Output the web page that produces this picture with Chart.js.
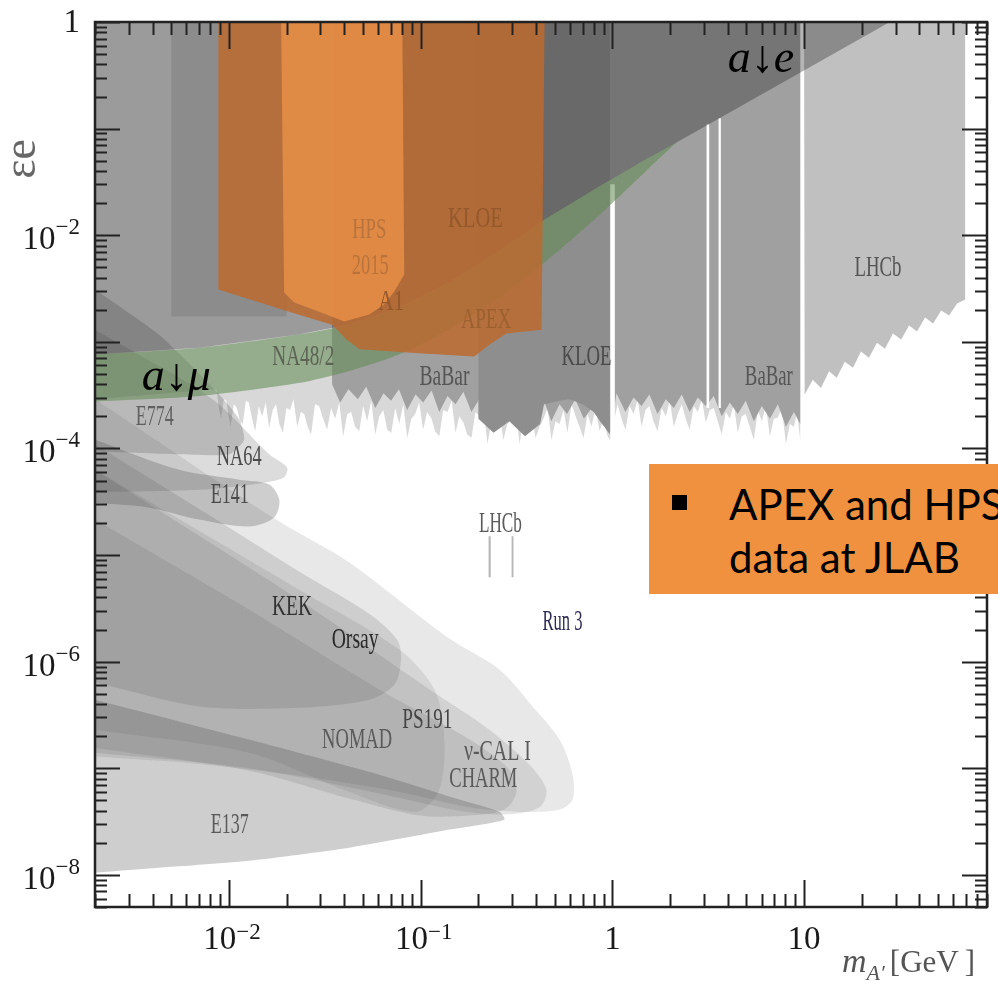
<!DOCTYPE html>
<html>
<head>
<meta charset="utf-8">
<title>Dark photon limits</title>
<script src="https://cdn.jsdelivr.net/npm/chart.js@4.4.1/dist/chart.umd.min.js"></script>
<style>
  html, body { margin: 0; padding: 0; background: #fff; overflow: hidden; }
  #wrap { position: relative; width: 998px; height: 985px; overflow: hidden; }
  #chart { display: block; }
  #note { position: absolute; left: 649px; top: 464px; width: 380px; height: 130px; background: #f0913f;
          font-family: Lato, "Open Sans", sans-serif; font-size: 42px; color: #000; }
  #note .sq { position: absolute; left: 23px; top: 31px; width: 15px; height: 15px; background: #000; }
  #note .ln { position: absolute; left: 80px; line-height: 42px; white-space: nowrap; }
</style>
</head>
<body>
<div id="wrap">
  <canvas id="chart" width="998" height="985"></canvas>
  <div id="note"><span class="sq"></span><span class="ln" style="top:19px">APEX and HPS</span><span class="ln" style="top:72px">data at JLAB</span></div>
</div>
<script>
// axes
const massRange = [0.002, 90];
const epsRange = [5e-9, 1];
const massLabels = [0.01, 0.1, 1, 10];
const epsLabels = [1e-8, 1e-6, 1e-4, 1e-2, 1];
const epsTop = 1;

// light fringe under the collider limits (BaBar / KLOE), jagged lower edge
const fringeMass = [0.002,
  0.0086, 0.00885, 0.0091, 0.0094, 0.0097, 0.00995, 0.0102, 0.0106, 0.011, 0.0114,
  0.0118, 0.01225, 0.0127, 0.0132, 0.0137, 0.0143, 0.0149, 0.01555, 0.0162, 0.0169,
  0.0176, 0.0183, 0.0191, 0.01995, 0.0208, 0.0217, 0.0227, 0.0237, 0.0247, 0.0257,
  0.0268, 0.0281, 0.0295, 0.031, 0.0325, 0.0341, 0.0358, 0.0376, 0.0394, 0.0414,
  0.0434, 0.0455, 0.0478, 0.0501, 0.0526, 0.0552, 0.0579, 0.0608, 0.0638, 0.0669,
  0.0702, 0.0737, 0.0773, 0.0811, 0.0851, 0.0893, 0.0937, 0.0982, 0.103, 0.108,
  0.114, 0.119, 0.125, 0.131, 0.138, 0.145, 0.152, 0.159, 0.167, 0.175,
  0.184, 0.193, 0.202, 0.212, 0.223, 0.234, 0.245, 0.257, 0.270, 0.283,
  0.297, 0.312, 0.328, 0.344, 0.361, 0.379, 0.397, 0.417, 0.437, 0.459,
  0.481, 0.505, 0.530, 0.556, 0.583, 0.612, 0.643, 0.674, 0.707, 0.742,
  0.778, 0.817, 0.857, 0.899, 0.944, 0.972, 1.00, 1.032, 1.065, 1.116,
  1.17, 1.229, 1.29, 1.354, 1.42, 1.488, 1.56, 1.638, 1.72, 1.808,
  1.90, 1.993, 2.09, 2.193, 2.30, 2.412, 2.53, 2.657, 2.79, 2.927,
  3.07, 3.221, 3.38, 3.546, 3.72, 3.905, 4.10, 4.30, 4.51, 4.73,
  4.96, 5.209, 5.47, 5.738, 6.02, 6.318, 6.63, 6.957, 7.30, 7.661,
  8.04, 8.435, 8.85, 9.193, 9.55];
const fringeEps = [2.9e-4,
  3.6e-4, 2.4e-4, 1.9e-4, 2.9e-4, 2.8e-4, 2.0e-4, 1.6e-4, 2.6e-4, 2.4e-4, 1.8e-4,
  1.7e-4, 2.8e-4, 2.7e-4, 1.9e-4, 1.45e-4, 2.5e-4, 2.0e-4, 2.7e-4, 1.55e-4, 2.3e-4,
  2.6e-4, 1.7e-4, 1.4e-4, 2.4e-4, 2.3e-4, 2.9e-4, 1.6e-4, 2.2e-4, 2.1e-4, 1.6e-4,
  1.35e-4, 2.6e-4, 2.5e-4, 1.9e-4, 1.5e-4, 2.4e-4, 1.9e-4, 2.7e-4, 1.3e-4, 2.1e-4,
  2.2e-4, 1.6e-4, 1.45e-4, 2.5e-4, 1.8e-4, 2.8e-4, 1.35e-4, 2.0e-4, 2.3e-4, 1.5e-4,
  1.4e-4, 2.4e-4, 1.7e-4, 2.6e-4, 1.25e-4, 1.9e-4, 2.1e-4, 2.7e-4, 1.5e-4, 2.2e-4,
  1.9e-4, 1.45e-4, 1.3e-4, 2.3e-4, 2.2e-4, 2.8e-4, 1.4e-4, 2.0e-4, 1.75e-4, 1.35e-4,
  1.25e-4, 2.2e-4, 2.0e-4, 2.6e-4, 1.1e-4, 1.8e-4, 1.6e-4, 2.3e-4, 1.2e-4, 1.7e-4,
  1.85e-4, 2.5e-4, 1.1e-4, 1.9e-4, 1.5e-4, 2.2e-4, 1.25e-4, 1.6e-4, 1.9e-4, 2.4e-4,
  1.2e-4, 1.8e-4, 1.7e-4, 2.3e-4, 1.4e-4, 2.6e-4, 2.0e-4, 1.6e-4, 1.25e-4, 2.1e-4,
  1.6e-4, 2.4e-4, 1.45e-4, 1.9e-4, 1.3e-4, 1.2e-4, 1.25e-4, 2.0e-4, 2.6e-4, 1.9e-4,
  1.5e-4, 2.5e-4, 2.1e-4, 2.9e-4, 1.6e-4, 2.3e-4, 2.5e-4, 1.8e-4, 1.45e-4, 2.4e-4,
  2.0e-4, 2.8e-4, 1.6e-4, 2.1e-4, 2.6e-4, 1.9e-4, 1.5e-4, 2.5e-4, 2.2e-4, 2.9e-4,
  1.75e-4, 2.3e-4, 2.4e-4, 1.8e-4, 1.35e-4, 2.2e-4, 1.9e-4, 2.6e-4, 1.4e-4, 2.0e-4,
  2.1e-4, 1.6e-4, 1.2e-4, 2.3e-4, 1.8e-4, 2.5e-4, 1.3e-4, 1.9e-4, 1.95e-4, 2.4e-4,
  1.1e-4, 1.7e-4, 1.6e-4, 2.2e-4, 1.2e-4];

// BaBar body
const babarMass = [0.0345, 0.038, 0.042, 0.047, 0.052, 0.058, 0.064, 0.070, 0.077, 0.085, 0.094, 0.103, 0.114, 0.125, 0.138, 0.152, 0.167, 0.184, 0.202, 0.223, 0.245, 0.27, 0.297, 0.33, 0.36, 0.40, 0.44, 0.48, 0.53, 0.58, 0.64, 0.71, 0.78, 0.86, 0.94, 0.98, 1.05, 1.17, 1.29, 1.42, 1.56, 1.72, 1.9, 2.09, 2.3, 2.53, 2.79, 3.07, 3.38, 3.72, 4.1, 4.51, 4.96, 5.47, 6.02, 6.63, 7.3, 8.04, 8.85, 9.55];
const babarEps = [4.0e-4, 2.7e-4, 3.6e-4, 2.9e-4, 3.8e-4, 2.4e-4, 3.3e-4, 2.8e-4, 3.6e-4, 2.3e-4, 3.2e-4, 2.7e-4, 3.5e-4, 2.2e-4, 3.1e-4, 2.6e-4, 3.4e-4, 2.2e-4, 2.9e-4, 1.8e-4, 2.5e-4, 1.9e-4, 2.7e-4, 1.7e-4, 2.4e-4, 1.9e-4, 2.8e-4, 1.8e-4, 2.6e-4, 2.1e-4, 2.9e-4, 1.9e-4, 2.4e-4, 1.8e-4, 1.5e-4, 1.4e-4, 3.3e-4, 2.2e-4, 3.0e-4, 2.5e-4, 3.2e-4, 2.1e-4, 2.9e-4, 2.4e-4, 3.2e-4, 2.2e-4, 3.0e-4, 2.5e-4, 3.1e-4, 2.0e-4, 2.7e-4, 2.1e-4, 2.8e-4, 1.8e-4, 2.5e-4, 1.9e-4, 2.6e-4, 1.6e-4, 2.2e-4, 1.7e-4];

const kloeMass = [0.2, 0.2, 0.24, 0.29, 0.35, 0.42, 0.44, 0.53, 0.6, 0.7, 0.8, 0.97, 0.97];
const kloeEps = [1, 1.9e-4, 1.4e-4, 1.8e-4, 1.3e-4, 1.7e-4, 2.6e-4, 2.8e-4, 2.9e-4, 2.6e-4, 2.2e-4, 1.35e-4, 1];

const lhcbMass = [10.0, 10.07, 11.1, 12.25, 13.5, 14.8, 16.3, 18.0, 19.8, 21.8, 24.0, 26.4, 29.1, 32.1, 35.3, 38.8, 42.8, 47.1, 51.9, 57.1, 62.8, 69.2, 69.2];
const lhcbEps = [1, 3.2e-4, 4.4e-4, 3.7e-4, 5.3e-4, 4.6e-4, 6.5e-4, 5.7e-4, 8.1e-4, 7.1e-4, 9.8e-4, 8.6e-4, 1.2e-3, 1.05e-3, 1.42e-3, 1.25e-3, 1.69e-3, 1.49e-3, 1.97e-3, 1.77e-3, 2.29e-3, 2.49e-3, 1];

const a1Mass = [0.005, 0.005, 0.02, 0.02];
const a1Eps = [1, 1.73e-3, 1.73e-3, 1];

// narrow gaps between resonance vetoes: [mass from, mass to, lowest eps, highest eps]
const gaps = [[0.975, 1.03, 1.2e-4, 0.03], [3.1, 3.2, 2.4e-4, 0.11], [3.58, 3.68, 2.4e-4, 0.125]];

// beam dump regions [mass, eps]
const nuCal = [[0.002, 2.9e-4], [0.0176, 2.15e-5], [0.0424, 8.5e-6], [0.136, 1.72e-6], [0.258, 8.4e-7], [0.383, 3.8e-7], [0.53, 1.86e-7], [0.62, 8.7e-8], [0.62, 5.1e-8], [0.53, 4.1e-8], [0.3275, 3.9e-8], [0.18, 4.3e-8], [0.0773, 6.0e-8], [0.0232, 8.5e-8], [0.007, 1.1e-7], [0.002, 1.29e-7]];
const charm = [[0.002, 6.3e-5], [0.0232, 3.8e-6], [0.111, 5.5e-7], [0.228, 2.3e-7], [0.369, 1.08e-7], [0.453, 6.3e-8], [0.4165, 4.3e-8], [0.29, 3.7e-8], [0.159, 4.0e-8], [0.0608, 5.8e-8], [0.0127, 1.0e-7], [0.002, 1.4e-7]];
const ps191 = [[0.002, 2.15e-5], [0.0127, 3.08e-6], [0.0608, 5.47e-7], [0.18, 1.86e-7], [0.29, 9.7e-8], [0.316, 6.0e-8], [0.273, 4.1e-8], [0.18, 3.6e-8], [0.098, 3.6e-8], [0.0424, 5.2e-8], [0.0127, 9.5e-8], [0.002, 1.55e-7]];
const nomad = [[0.002, 6.3e-5], [0.0232, 4.74e-6], [0.0773, 1.3e-6], [0.118, 5.47e-7], [0.133, 1.86e-7], [0.125, 6.3e-8], [0.0948, 3.9e-8], [0.0424, 6.0e-8], [0.0127, 1.4e-7], [0.002, 2.3e-7]];
const orsay = [[0.002, 1.09e-4], [0.007, 2.7e-5], [0.0232, 7.0e-6], [0.054, 2.8e-6], [0.0755, 1.6e-6], [0.079, 1.05e-6], [0.073, 6.1e-7], [0.054, 4.4e-7], [0.0232, 3.7e-7], [0.007, 3.8e-7], [0.002, 6.4e-7]];
const e141 = [[0.002, 1.21e-4], [0.0055, 6.3e-5], [0.0113, 5.1e-5], [0.0162, 4.6e-5], [0.0183, 3.3e-5], [0.0172, 2.25e-5], [0.0127, 1.85e-5], [0.007, 2.15e-5], [0.0038, 2.8e-5], [0.002, 3.1e-5]];
const na64 = [[0.002, 1.3e-3], [0.0082, 2.9e-4], [0.0162, 8.8e-5], [0.0201, 6.6e-5], [0.0192, 5.3e-5], [0.0144, 4.7e-5], [0.007, 4.1e-5], [0.002, 3.9e-5]];
const e774 = [[0.002, 3.1e-3], [0.0043, 1.17e-3], [0.0089, 3.2e-4], [0.0113, 1.87e-4], [0.012, 1.21e-4], [0.01, 8.8e-5], [0.0055, 8.8e-5], [0.002, 9.4e-5]];
const e137 = [[0.002, 4.4e-7], [0.0127, 1.86e-7], [0.0608, 8.7e-8], [0.159, 5.1e-8], [0.258, 3.9e-8], [0.273, 3.3e-8], [0.141, 2.66e-8], [0.0424, 1.8e-8], [0.0127, 1.36e-8], [0.0038, 1.15e-8], [0.002, 1.05e-8]];
const lhcbDisplaced = [[0.226, 0.232], [0.298, 0.305]];
const lhcbDisplacedEps = [6.2e-6, 1.5e-5];

// (g-2) band
const greenMass = [0.002, 0.007, 0.023, 0.042, 0.077, 0.14, 0.26, 0.44, 0.86, 1.56, 2.16];
const greenUpper = [7.6e-4, 8.8e-4, 1.17e-3, 1.45e-3, 2.1e-3, 3.6e-3, 7.3e-3, 0.014, 0.029, 0.054, 0.074];
const greenLower = [2.75e-4, 3.1e-4, 4.1e-4, 5.3e-4, 7.6e-4, 1.3e-3, 2.66e-3, 5.5e-3, 0.0156, 0.043, 0.074];
const aeEnd = [28, 1];

// JLab fixed target
const apexMass = [0.0088, 0.0088, 0.0206, 0.0345, 0.041, 0.048, 0.098, 0.19, 0.228, 0.28, 0.427, 0.443];
const apexEps = [1, 3.1e-3, 1.92e-3, 1.45e-3, 1.05e-3, 8.5e-4, 7.8e-4, 7.3e-4, 9.4e-4, 1.2e-3, 1.3e-3, 1];
const hpsMass = [0.0187, 0.0194, 0.0219, 0.0295, 0.0399, 0.0539, 0.0645, 0.0728, 0.0821, 0.0802];
const hpsEps = [1, 2.9e-3, 2.34e-3, 1.92e-3, 1.55e-3, 1.8e-3, 2.24e-3, 2.96e-3, 4.28e-3, 1];

const regionLabels = [
  {text: 'HPS', m: 0.0539, e: 0.0118, w: 34, color: '#b9733a'},
  {text: '2015', m: 0.0546, e: 5.43e-3, w: 37, color: '#b9733a'},
  {text: 'KLOE', m: 0.193, e: 0.0147, w: 55, color: '#95582a'},
  {text: 'A1', m: 0.0702, e: 2.49e-3, w: 26, color: '#95582a'},
  {text: 'APEX', m: 0.220, e: 1.69e-3, w: 50, color: '#9c602f'},
  {text: 'NA48/2', m: 0.0244, e: 7.6e-4, w: 62, color: '#5b6453'},
  {text: 'BaBar', m: 0.133, e: 4.93e-4, w: 50, color: '#555'},
  {text: 'KLOE', m: 0.733, e: 7.6e-4, w: 50, color: '#4a4a4a'},
  {text: 'BaBar', m: 6.55, e: 4.93e-4, w: 48, color: '#555'},
  {text: 'LHCb', m: 24.3, e: 5.2e-3, w: 47, color: '#555'},
  {text: 'E774', m: 0.0041, e: 2.08e-4, w: 38, color: '#606060'},
  {text: 'NA64', m: 0.0113, e: 8.77e-5, w: 45, color: '#4a4a4a'},
  {text: 'E141', m: 0.0101, e: 3.86e-5, w: 38, color: '#4a4a4a'},
  {text: 'LHCb', m: 0.2606, e: 2.06e-5, w: 43, color: '#5a5a5a'},
  {text: 'KEK', m: 0.0213, e: 3.43e-6, w: 40, color: '#333'},
  {text: 'Orsay', m: 0.0455, e: 1.68e-6, w: 47, color: '#2a2a2a'},
  {text: 'NOMAD', m: 0.0466, e: 1.94e-7, w: 70, color: '#5a5a5a'},
  {text: 'PS191', m: 0.1083, e: 2.99e-7, w: 50, color: '#444'},
  {text: 'ν-CAL I', m: 0.2513, e: 1.5e-7, w: 67, color: '#5a5a5a'},
  {text: 'CHARM', m: 0.2123, e: 8.36e-8, w: 68, color: '#5a5a5a'},
  {text: 'E137', m: 0.0101, e: 3.10e-8, w: 38, color: '#5a5a5a'},
  {text: 'Run 3', m: 0.549, e: 2.48e-6, w: 40, color: '#2e2e55'}
];

const SERIF = '"Liberation Serif", "DejaVu Serif", serif';

function zipPts(mass, eps) {
  return mass.map((m, i) => ({x: m, y: eps[i]}));
}
function pairPts(pairs) {
  return pairs.map(p => ({x: p[0], y: p[1]}));
}
function region(label, data, color, tension) {
  return {label, data, backgroundColor: color, borderColor: 'transparent', borderWidth: 0,
          pointRadius: 0, showLine: true, fill: 'shape', tension: tension || 0};
}

// build layers bottom -> top
const layers = [];
layers.push(region('fringe', [{x: fringeMass[0], y: epsTop}, ...zipPts(fringeMass, fringeEps), {x: fringeMass[fringeMass.length - 1], y: epsTop}], '#d8d8d8'));
layers.push(region('BaBar', [{x: babarMass[0], y: epsTop}, ...zipPts(babarMass, babarEps), {x: babarMass[babarMass.length - 1], y: epsTop}], '#a0a0a0'));
layers.push(region('KLOE', zipPts(kloeMass, kloeEps), '#8e8e8e'));
layers.push(region('LHCb', zipPts(lhcbMass, lhcbEps), '#c0c0c0'));
layers.push(region('A1', zipPts(a1Mass, a1Eps), '#c2c2c2'));
gaps.forEach(g => layers.push(region('gap', [{x: g[0], y: g[3]}, {x: g[0], y: g[2]}, {x: g[1], y: g[2]}, {x: g[1], y: g[3]}], '#ffffff')));
layers.push(region('nu-CAL I', pairPts(nuCal), 'rgba(80,80,80,0.13)', 0.3));
layers.push(region('CHARM', pairPts(charm), 'rgba(80,80,80,0.14)', 0.3));
layers.push(region('PS191', pairPts(ps191), 'rgba(80,80,80,0.14)', 0.3));
layers.push(region('NOMAD', pairPts(nomad), 'rgba(80,80,80,0.12)', 0.3));
layers.push(region('Orsay', pairPts(orsay), 'rgba(80,80,80,0.17)', 0.3));
layers.push(region('E141', pairPts(e141), 'rgba(80,80,80,0.28)', 0.3));
layers.push(region('NA64', pairPts(na64), 'rgba(80,80,80,0.2)', 0.3));
layers.push(region('E774', pairPts(e774), 'rgba(80,80,80,0.25)', 0.2));
layers.push(region('E137', pairPts(e137), 'rgba(80,80,80,0.28)', 0.25));
lhcbDisplaced.forEach(d => layers.push(region('LHCb displaced', [{x: d[0], y: lhcbDisplacedEps[1]}, {x: d[0], y: lhcbDisplacedEps[0]}, {x: d[1], y: lhcbDisplacedEps[0]}, {x: d[1], y: lhcbDisplacedEps[1]}], '#b8b8b8')));
layers.push(region('a_mu', [...zipPts(greenMass, greenUpper), ...zipPts(greenMass, greenLower).reverse()], 'rgba(95,138,81,0.55)', 0.25));
layers.push(region('a_e', [...zipPts(greenMass, greenUpper), {x: aeEnd[0], y: aeEnd[1]}, {x: greenMass[0], y: epsTop}], 'rgba(30,30,30,0.33)'));
layers.push(region('APEX', zipPts(apexMass, apexEps), 'rgba(186,106,48,0.86)'));
layers.push(region('HPS', zipPts(hpsMass, hpsEps), 'rgba(226,140,70,0.93)'));
layers.forEach((d, i) => { d.order = layers.length - i; });

function expLabel(v) {
  const p = Math.round(Math.log10(v));
  if (p === 0) return ['1', ''];
  if (p === 1) return ['10', ''];
  return ['10', (p < 0 ? '\u2212' : '') + Math.abs(p)];
}

// ticks, frame, labels
const decorations = {
  id: 'decorations',
  afterDatasetsDraw(chart) {
    const {ctx, chartArea: a, scales: {x, y}} = chart;
    ctx.save();

    // region names
    ctx.textAlign = 'center';
    ctx.textBaseline = 'alphabetic';
    ctx.font = '30px ' + SERIF;
    regionLabels.forEach(l => {
      ctx.fillStyle = l.color;
      ctx.fillText(l.text, x.getPixelForValue(l.m), y.getPixelForValue(l.e) + 10, l.w);
    });

    // a_e and a_mu
    ctx.fillStyle = '#000';
    ctx.textAlign = 'left';
    ctx.font = 'italic 46px ' + SERIF;
    ctx.fillText('a\u2193e', x.getPixelForValue(4.0), y.getPixelForValue(0.343));
    ctx.fillText('a\u2193\u03bc', x.getPixelForValue(0.00351), y.getPixelForValue(3.57e-4));

    // ticks on all four sides
    ctx.strokeStyle = '#222';
    ctx.lineWidth = 2;
    ctx.beginPath();
    const xlo = Math.floor(Math.log10(x.min)), xhi = Math.ceil(Math.log10(x.max));
    for (let d = xlo; d <= xhi; d++) {
      for (let k = 1; k <= 9; k++) {
        const v = k * Math.pow(10, d);
        if (v < x.min * 0.999 || v > x.max * 1.001) continue;
        const px = Math.round(x.getPixelForValue(v)) + 0.5;
        const len = k === 1 ? 27 : 13;
        ctx.moveTo(px, a.bottom); ctx.lineTo(px, a.bottom - len);
        ctx.moveTo(px, a.top); ctx.lineTo(px, a.top + len);
      }
    }
    const ylo = Math.floor(Math.log10(y.min)), yhi = Math.ceil(Math.log10(y.max));
    for (let d = ylo; d <= yhi; d++) {
      for (let k = 1; k <= 9; k++) {
        const v = k * Math.pow(10, d);
        if (v < y.min * 0.999 || v > y.max * 1.001) continue;
        const py = Math.round(y.getPixelForValue(v)) + 0.5;
        const len = k === 1 ? 25 : 12;
        ctx.moveTo(a.left, py); ctx.lineTo(a.left + len, py);
        ctx.moveTo(a.right, py); ctx.lineTo(a.right - len, py);
      }
    }
    ctx.stroke();

    // frame
    ctx.lineWidth = 2.5;
    ctx.strokeRect(a.left, a.top, a.right - a.left, a.bottom - a.top);

    // tick labels
    ctx.fillStyle = '#1a1a1a';
    epsLabels.forEach(v => {
      const py = y.getPixelForValue(v);
      const [b, s] = expLabel(v);
      ctx.font = '23px ' + SERIF;
      const sw = s ? ctx.measureText(s).width : 0;
      ctx.font = '33px ' + SERIF;
      const bw = ctx.measureText(b).width;
      const right = a.left - 15;
      ctx.fillText(b, right - sw - bw, s ? py + 14 : py + 10);
      if (s) { ctx.font = '23px ' + SERIF; ctx.fillText(s, right - sw, py - 1); }
    });
    massLabels.forEach(v => {
      const px = x.getPixelForValue(v);
      const [b, s] = expLabel(v);
      ctx.font = '23px ' + SERIF;
      const sw = s ? ctx.measureText(s).width : 0;
      ctx.font = '33px ' + SERIF;
      const bw = ctx.measureText(b).width;
      const start = px - (bw + sw) / 2 + (s ? 3 : 0);
      ctx.fillText(b, start, a.bottom + 42);
      if (s) { ctx.font = '23px ' + SERIF; ctx.fillText(s, start + bw, a.bottom + 32); }
    });

    // axis titles
    ctx.fillStyle = '#555';
    ctx.font = 'italic 34px ' + SERIF;
    let tx = a.right - 145;
    const ty = a.bottom + 65;
    ctx.fillText('m', tx, ty);
    tx += ctx.measureText('m').width;
    ctx.font = 'italic 22px ' + SERIF;
    ctx.fillText('A\u2032', tx, ty + 8);
    tx += ctx.measureText('A\u2032').width + 5;
    ctx.font = '31px ' + SERIF;
    ctx.fillText('[GeV\u2009]', tx, ty);

    ctx.translate(a.left - 60, y.getPixelForValue(0.052));
    ctx.rotate(-Math.PI / 2);
    ctx.textAlign = 'center';
    ctx.font = '46px ' + SERIF;
    ctx.fillStyle = '#666';
    ctx.fillText('\u03b5e', 0, 0);
    ctx.restore();
  }
};

new Chart(document.getElementById('chart'), {
  type: 'scatter',
  data: {datasets: layers},
  options: {
    responsive: false,
    animation: false,
    events: [],
    layout: {padding: {top: 22, right: 11, left: 0, bottom: 0}},
    plugins: {legend: {display: false}, tooltip: {enabled: false}},
    scales: {
      x: {type: 'logarithmic', min: massRange[0], max: massRange[1],
          ticks: {display: false}, grid: {display: false}, border: {display: false},
          afterFit: s => { s.height = 78; }},
      y: {type: 'logarithmic', min: epsRange[0], max: epsRange[1],
          ticks: {display: false}, grid: {display: false}, border: {display: false},
          afterFit: s => { s.width = 95; }}
    }
  },
  plugins: [decorations]
});
</script>
</body>
</html>
